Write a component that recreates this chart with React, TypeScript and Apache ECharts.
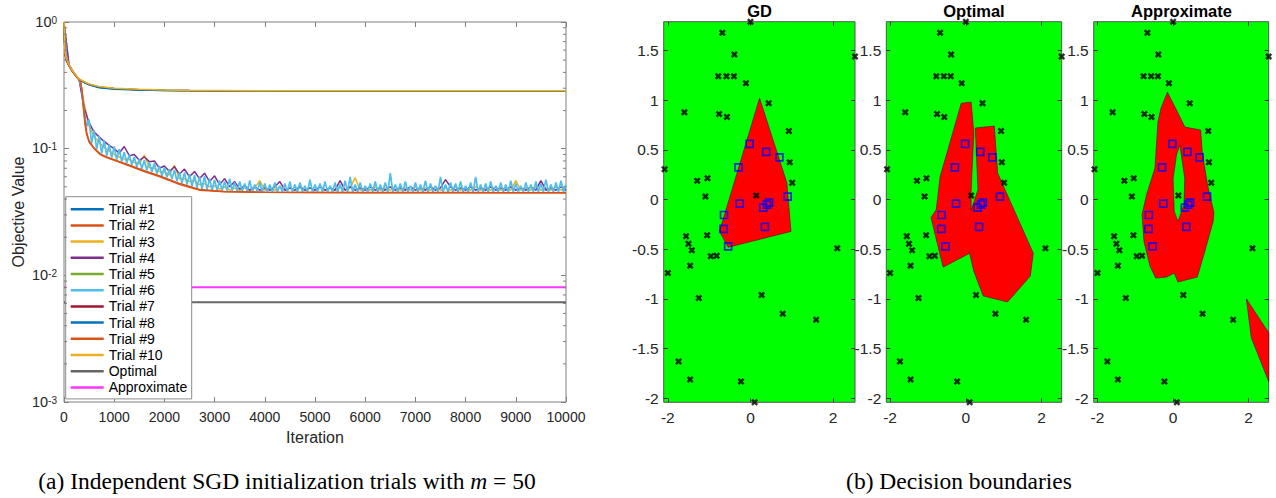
import React, { useEffect, useRef } from "react";
import * as echarts from "echarts";

// ---------------- Left chart data ----------------
const TRIAL_NAMES = ["Trial #1", "Trial #2", "Trial #3", "Trial #4", "Trial #5", "Trial #6", "Trial #7", "Trial #8", "Trial #9", "Trial #10"];
const TRIAL_COLORS = ["#0072BD", "#D95319", "#EDB120", "#7E2F8E", "#77AC30", "#4DBEEE", "#A2142F", "#0072BD", "#D95319", "#EDB120"];

// iterations for smooth (upper plateau) trials
const ITER_SMOOTH = [0, 20, 50, 100, 150, 200, 250, 300, 400, 500, 700, 1000, 1500, 2000, 2500, 3000, 4000, 5000, 6000, 7000, 8000, 9000, 10000];
const TRIAL1 = [1.0, 0.57, 0.5, 0.455, 0.42, 0.395, 0.372, 0.354, 0.336, 0.322, 0.307, 0.298, 0.292, 0.289, 0.2875, 0.287, 0.2862, 0.2858, 0.2856, 0.2858, 0.2855, 0.2857, 0.2855];
const TRIAL5 = [1.0, 0.56, 0.5, 0.452, 0.418, 0.393, 0.37, 0.352, 0.334, 0.32, 0.305, 0.297, 0.291, 0.288, 0.287, 0.2865, 0.286, 0.2855, 0.2853, 0.2855, 0.2852, 0.2855, 0.2853];
const TRIAL7 = [0.98, 0.56, 0.49, 0.45, 0.416, 0.392, 0.37, 0.353, 0.335, 0.321, 0.306, 0.298, 0.292, 0.289, 0.2873, 0.2866, 0.2862, 0.2857, 0.2856, 0.2857, 0.2855, 0.2856, 0.2855];
const TRIAL8 = [1.0, 0.57, 0.5, 0.454, 0.419, 0.394, 0.371, 0.353, 0.333, 0.319, 0.303, 0.295, 0.29, 0.2875, 0.2865, 0.286, 0.2855, 0.2852, 0.285, 0.2853, 0.285, 0.2852, 0.285];
const TRIAL10 = [1.0, 0.58, 0.51, 0.458, 0.422, 0.397, 0.374, 0.356, 0.338, 0.324, 0.309, 0.3, 0.294, 0.29, 0.2885, 0.2878, 0.287, 0.2865, 0.2862, 0.2866, 0.2863, 0.2865, 0.2862];

// iterations for smooth lower-envelope trials
const ITER_LOWER = [0, 20, 50, 100, 150, 200, 250, 300, 330, 360, 390, 420, 450, 500, 600, 720, 850, 1000, 1150, 1310, 1600, 1910, 2310, 2710, 3200, 4000, 5000, 6000, 8000, 10000];
const TRIAL2 = [1.0, 0.57, 0.5, 0.455, 0.42, 0.395, 0.372, 0.352, 0.335, 0.27, 0.2, 0.155, 0.13, 0.113, 0.1, 0.09, 0.085, 0.081, 0.077, 0.073, 0.066, 0.06, 0.052, 0.047, 0.0457, 0.0452, 0.045, 0.0449, 0.0449, 0.0448];
const TRIAL9 = [1.0, 0.56, 0.5, 0.453, 0.418, 0.393, 0.37, 0.35, 0.338, 0.29, 0.215, 0.165, 0.135, 0.115, 0.101, 0.091, 0.086, 0.082, 0.078, 0.074, 0.067, 0.061, 0.053, 0.0475, 0.046, 0.0453, 0.0451, 0.045, 0.045, 0.0449];

// noisy trials: every 50 iterations (Trial #6) and every 100 iterations (#3, #4)
const ITER_50 = Array.from({ length: 201 }, (_, i) => i * 50);
const ITER_100 = Array.from({ length: 101 }, (_, i) => i * 100);
const TRIAL6 = [
  1.0, 0.52, 0.46, 0.425, 0.395, 0.37, 0.352, 0.3, 0.2, 0.15,
  0.17, 0.11, 0.14, 0.099, 0.126, 0.092, 0.116, 0.088, 0.108, 0.085,
  0.104, 0.082, 0.099, 0.079, 0.094, 0.077, 0.09, 0.0745, 0.086, 0.072,
  0.083, 0.0695, 0.081, 0.0675, 0.078, 0.0655, 0.077, 0.0635, 0.073, 0.061,
  0.071, 0.0595, 0.069, 0.0575, 0.068, 0.0555, 0.065, 0.0535, 0.065, 0.052,
  0.063, 0.0505, 0.062, 0.049, 0.06, 0.048, 0.061, 0.0475, 0.058, 0.047,
  0.057, 0.047, 0.056, 0.047, 0.055, 0.0465, 0.058, 0.0465, 0.054, 0.046,
  0.055, 0.046, 0.053, 0.046, 0.056, 0.0458, 0.052, 0.0458, 0.054, 0.0456,
  0.053, 0.0455, 0.052, 0.0455, 0.054, 0.0455, 0.051, 0.0455, 0.053, 0.0455,
  0.055, 0.0455, 0.052, 0.0455, 0.054, 0.0455, 0.051, 0.0455, 0.057, 0.0455,
  0.052, 0.0455, 0.053, 0.0455, 0.055, 0.0455, 0.051, 0.0455, 0.054, 0.0455,
  0.052, 0.0455, 0.056, 0.0455, 0.06, 0.0455, 0.052, 0.0455, 0.054, 0.0455,
  0.051, 0.0455, 0.053, 0.0455, 0.055, 0.0455, 0.052, 0.0455, 0.054, 0.0455,
  0.064, 0.0455, 0.052, 0.0455, 0.053, 0.0455, 0.055, 0.0455, 0.051, 0.0455,
  0.054, 0.0455, 0.052, 0.0455, 0.056, 0.0455, 0.053, 0.0455, 0.051, 0.0455,
  0.06, 0.0455, 0.052, 0.0455, 0.054, 0.0455, 0.053, 0.0455, 0.055, 0.0455,
  0.051, 0.0455, 0.054, 0.0455, 0.06, 0.0455, 0.052, 0.0455, 0.053, 0.0455,
  0.055, 0.0455, 0.051, 0.0455, 0.054, 0.0455, 0.052, 0.0455, 0.056, 0.0455,
  0.053, 0.0455, 0.051, 0.0455, 0.054, 0.0455, 0.052, 0.0455, 0.055, 0.0455,
  0.053, 0.0455, 0.057, 0.0455, 0.052, 0.0455, 0.054, 0.0455, 0.056, 0.0455,
  0.052,
];
const TRIAL4 = [
  1.0, 0.46, 0.395, 0.352, 0.21, 0.16, 0.135, 0.124, 0.114, 0.106,
  0.1, 0.092, 0.104, 0.088, 0.09, 0.081, 0.086, 0.079, 0.08, 0.07,
  0.073, 0.066, 0.072, 0.063, 0.069, 0.06, 0.066, 0.058, 0.064, 0.055,
  0.061, 0.052, 0.058, 0.05, 0.055, 0.048, 0.051, 0.047, 0.05, 0.047,
  0.049, 0.047, 0.05, 0.055, 0.047, 0.049, 0.047, 0.05, 0.047, 0.049,
  0.047, 0.05, 0.047, 0.049, 0.047, 0.056, 0.047, 0.05, 0.047, 0.049,
  0.047, 0.05, 0.047, 0.049, 0.047, 0.05, 0.047, 0.049, 0.047, 0.05,
  0.047, 0.049, 0.047, 0.05, 0.047, 0.049, 0.057, 0.05, 0.047, 0.049,
  0.047, 0.05, 0.047, 0.049, 0.047, 0.05, 0.047, 0.049, 0.047, 0.05,
  0.047, 0.049, 0.047, 0.05, 0.047, 0.056, 0.047, 0.049, 0.047, 0.05,
  0.047,
];
const TRIAL3 = [
  1.0, 0.455, 0.395, 0.352, 0.23, 0.15, 0.125, 0.112, 0.102, 0.096,
  0.09, 0.086, 0.083, 0.082, 0.078, 0.076, 0.089, 0.071, 0.07, 0.066,
  0.065, 0.062, 0.074, 0.058, 0.058, 0.055, 0.056, 0.052, 0.053, 0.05,
  0.051, 0.048, 0.05, 0.047, 0.049, 0.047, 0.049, 0.047, 0.049, 0.056,
  0.047, 0.049, 0.047, 0.05, 0.047, 0.049, 0.047, 0.05, 0.047, 0.049,
  0.047, 0.05, 0.047, 0.049, 0.047, 0.05, 0.047, 0.049, 0.059, 0.047,
  0.049, 0.047, 0.05, 0.047, 0.049, 0.047, 0.05, 0.047, 0.049, 0.047,
  0.05, 0.047, 0.049, 0.047, 0.05, 0.047, 0.049, 0.047, 0.05, 0.047,
  0.049, 0.047, 0.05, 0.047, 0.049, 0.047, 0.05, 0.047, 0.049, 0.047,
  0.056, 0.047, 0.049, 0.047, 0.05, 0.047, 0.049, 0.047, 0.05, 0.047,
  0.049,
];

const ITER_FLAT = [0, 10000];
const OPTIMAL = [0.00614, 0.00614];
const APPROXIMATE = [0.00807, 0.00807];

const MINOR_LOG_TICKS = [
  0.002, 0.003, 0.004, 0.005, 0.006, 0.007, 0.008, 0.009,
  0.02, 0.03, 0.04, 0.05, 0.06, 0.07, 0.08, 0.09,
  0.2, 0.3, 0.4, 0.5, 0.6, 0.7, 0.8, 0.9,
];

// ---------------- Right panels data ----------------
const PANEL_TITLES = ["GD", "Optimal", "Approximate"];
const X_TICKS = [-2, 0, 2];
const Y_TICKS = [-2, -1.5, -1, -0.5, 0, 0.5, 1, 1.5];

const NEGATIVES = [
  [0.0, 1.79], [-0.68, 1.68], [-0.39, 1.46], [-0.78, 1.24], [-0.58, 1.24], [-0.4, 1.24], [-0.11, 1.17],
  [-1.6, 0.88], [-0.76, 0.86], [-0.57, 0.83], [0.44, 0.97], [0.93, 0.69], [0.95, 0.375], [1.01, 0.17],
  [-2.08, 0.305], [-1.29, 0.19], [-1.04, 0.215], [-1.09, 0.03], [0.14, 0.04], [2.53, 1.44],
  [-1.56, -0.37], [-1.5, -0.445], [-1.42, -0.51], [-1.05, -0.36], [-0.96, -0.57], [-0.82, -0.565],
  [-1.46, -0.665], [-2.0, -0.74], [-1.25, -0.99], [0.27, -0.96], [0.78, -1.15], [1.59, -1.21],
  [2.1, -0.49], [-1.74, -1.63], [-1.46, -1.81], [-0.23, -1.83], [0.1, -2.04],
];
const POSITIVES = [
  [-0.02, 0.56], [0.38, 0.48], [0.7, 0.425], [-0.29, 0.325], [0.9, 0.03], [-0.26, -0.04],
  [0.45, -0.03], [0.4, -0.05], [0.31, -0.08], [-0.64, -0.155], [-0.65, -0.295], [0.35, -0.275], [-0.54, -0.47],
];

const GD_REGION = [[0.22, 1.02], [0.88, 0.17], [0.98, -0.32], [-0.54, -0.48], [-0.75, -0.32]];
const OPT_REGION = [
  [-0.12, 0.97], [0.14, 0.98], [0.21, 0.67], [0.14, 0.1], [0.14, -0.11], [0.32, 0.1], [0.25, 0.72],
  [0.75, 0.74], [0.84, 0.265], [1.78, -0.54], [1.7, -0.77], [1.1, -1.03], [0.46, -0.97], [0.21, -0.72],
  [0.1, -0.54], [-0.6, -0.68], [-0.92, -0.18], [-0.78, -0.1], [-0.68, 0.23],
];
const APX_REGION = [
  [-0.15, 1.08], [0.13, 0.87], [0.31, 0.73], [0.73, 0.7], [0.77, 0.48], [0.91, 0.15], [1.08, -0.13],
  [1.06, -0.22], [0.84, -0.52], [0.64, -0.78], [0.13, -0.83], [0.03, -0.74], [-0.17, -0.78], [-0.46, -0.79],
  [-0.61, -0.67], [-0.77, -0.42], [-0.82, -0.15], [-0.7, 0.05], [-0.48, 0.315], [-0.4, 0.78], [-0.32, 0.92],
];
const APX_HOLE = [[0.18, 0.55], [0.31, 0.21], [0.29, -0.05], [0.13, -0.22], [0.03, -0.12], [0.0, 0.21], [0.09, 0.45]];
const APX_REGION2 = [[1.94, -1.0], [2.07, -1.39], [2.53, -1.83], [2.53, -1.34]];

const FONT = '"Liberation Sans", Arial, Helvetica, sans-serif';
const SERIF = '"Liberation Serif", "Times New Roman", serif';
const AXIS_GRAY = "#7f7f7f";
const LABEL = "#262626";

function pairs(xs: number[], ys: number[]) {
  return xs.map((x, i) => [x, ys[i]]);
}

function buildOption() {
  const panelGrids = [
    { left: 663.7, width: 191.3 },
    { left: 886.3, width: 175.4 },
    { left: 1093.7, width: 175 },
  ];
  const grid: any[] = [
    { left: 64, top: 22, width: 502, height: 380, show: true, backgroundColor: "#fff", borderColor: AXIS_GRAY, borderWidth: 1 },
    ...panelGrids.map((g) => ({ left: g.left, top: 21.7, width: g.width, height: 380.6, show: true, backgroundColor: "#00ff00", borderColor: "#555", borderWidth: 1 })),
  ];

  const xAxis: any[] = [
    {
      type: "value", gridIndex: 0, min: 0, max: 10000, interval: 1000, position: "bottom",
      axisLine: { show: false, onZero: false }, splitLine: { show: false },
      axisTick: { inside: true, length: 5, lineStyle: { color: AXIS_GRAY } },
      axisLabel: { fontSize: 14, color: LABEL, fontFamily: FONT, margin: 8, formatter: (v: number) => String(v) },
      name: "Iteration", nameLocation: "middle", nameGap: 27,
      nameTextStyle: { fontSize: 16, color: LABEL, fontFamily: FONT },
    },
    {
      type: "value", gridIndex: 0, min: 0, max: 10000, interval: 1000, position: "top",
      axisLine: { show: false, onZero: false }, splitLine: { show: false },
      axisTick: { inside: true, length: 5, lineStyle: { color: AXIS_GRAY } },
      axisLabel: { show: false },
    },
  ];
  const yAxis: any[] = [
    {
      type: "log", logBase: 10, gridIndex: 0, min: 0.001, max: 1, position: "left",
      axisLine: { show: false, onZero: false }, splitLine: { show: false },
      axisTick: { inside: true, length: 5, lineStyle: { color: AXIS_GRAY } },
      axisLabel: {
        margin: 7,
        formatter: (v: number) => `{b|10}{s|${Math.round(Math.log10(v))}}`,
        rich: {
          b: { fontSize: 14.5, color: LABEL, fontFamily: FONT, lineHeight: 14, padding: [4, 0, 0, 0], verticalAlign: "bottom" },
          s: { fontSize: 10, color: LABEL, fontFamily: FONT, lineHeight: 10, verticalAlign: "top" },
        },
      },
      name: "Objective Value", nameLocation: "middle", nameGap: 38,
      nameTextStyle: { fontSize: 16, color: LABEL, fontFamily: FONT },
    },
    {
      type: "log", logBase: 10, gridIndex: 0, min: 0.001, max: 1, position: "right",
      axisLine: { show: false, onZero: false }, splitLine: { show: false },
      axisTick: { inside: true, length: 5, lineStyle: { color: AXIS_GRAY } },
      axisLabel: { show: false },
    },
  ];

  panelGrids.forEach((_, k) => {
    const gi = k + 1;
    ["bottom", "top"].forEach((pos) => {
      xAxis.push({
        type: "value", gridIndex: gi, min: -2.1, max: 2.53, position: pos,
        axisLine: { show: false, onZero: false }, splitLine: { show: false },
        axisTick: { show: true, inside: true, length: 4, customValues: X_TICKS, lineStyle: { color: "#333" } },
        axisLabel: { show: pos === "bottom", customValues: X_TICKS, fontSize: 15.5, color: LABEL, fontFamily: FONT, margin: 7 },
      });
    });
    ["left", "right"].forEach((pos) => {
      yAxis.push({
        type: "value", gridIndex: gi, min: -2.04, max: 1.79, position: pos,
        axisLine: { show: false, onZero: false }, splitLine: { show: false },
        axisTick: { show: true, inside: true, length: 4, customValues: Y_TICKS, lineStyle: { color: "#333" } },
        axisLabel: { show: pos === "left", customValues: Y_TICKS, fontSize: 15.5, color: LABEL, fontFamily: FONT, margin: 5 },
      });
    });
  });

  const trialData = [
    pairs(ITER_SMOOTH, TRIAL1),
    pairs(ITER_LOWER, TRIAL2),
    pairs(ITER_100, TRIAL3),
    pairs(ITER_100, TRIAL4),
    pairs(ITER_SMOOTH, TRIAL5),
    pairs(ITER_50, TRIAL6),
    pairs(ITER_SMOOTH, TRIAL7),
    pairs(ITER_SMOOTH, TRIAL8),
    pairs(ITER_LOWER, TRIAL9),
    pairs(ITER_SMOOTH, TRIAL10),
  ];

  const series: any[] = [];
  trialData.forEach((d, i) => {
    series.push({
      type: "line", name: TRIAL_NAMES[i], xAxisIndex: 0, yAxisIndex: 0, data: d,
      showSymbol: false, symbol: "none", silent: true,
      lineStyle: { color: TRIAL_COLORS[i], width: i === 5 ? 1.7 : 1.5 }, itemStyle: { color: TRIAL_COLORS[i] },
    });
  });
  series.push({
    type: "line", name: "Optimal", xAxisIndex: 0, yAxisIndex: 0, data: pairs(ITER_FLAT, OPTIMAL),
    symbol: "none", silent: true, lineStyle: { color: "#666666", width: 2 }, itemStyle: { color: "#666666" },
  });
  series.push({
    type: "line", name: "Approximate", xAxisIndex: 0, yAxisIndex: 0, data: pairs(ITER_FLAT, APPROXIMATE),
    symbol: "none", silent: true, lineStyle: { color: "#ff33ff", width: 2 }, itemStyle: { color: "#ff33ff" },
  });
  // minor log ticks on both sides
  series.push({
    type: "custom", xAxisIndex: 0, yAxisIndex: 0, silent: true, z: 5,
    data: MINOR_LOG_TICKS.map((v) => [0, v]),
    renderItem: (params: any, api: any) => {
      const v = api.value(1);
      const l = api.coord([0, v]);
      const r = api.coord([10000, v]);
      return {
        type: "group",
        children: [
          { type: "line", shape: { x1: l[0], y1: l[1], x2: l[0] + 3, y2: l[1] }, style: { stroke: AXIS_GRAY, lineWidth: 1 } },
          { type: "line", shape: { x1: r[0] - 3, y1: r[1], x2: r[0], y2: r[1] }, style: { stroke: AXIS_GRAY, lineWidth: 1 } },
        ],
      };
    },
  });

  const regions = [
    { polys: [GD_REGION], fills: ["#ff0000"] },
    { polys: [OPT_REGION], fills: ["#ff0000"] },
    { polys: [APX_REGION, APX_HOLE, APX_REGION2], fills: ["#ff0000", "#00ff00", "#ff0000"] },
  ];
  const X_SYMBOL = "path://M0,2.5 L2.5,0 L5,2.5 L7.5,0 L10,2.5 L7.5,5 L10,7.5 L7.5,10 L5,7.5 L2.5,10 L0,7.5 L2.5,5 Z";
  regions.forEach((reg, k) => {
    const ax = 2 + k * 2;
    series.push({
      type: "custom", xAxisIndex: ax, yAxisIndex: ax, silent: true, z: 1,
      data: [[0, 0]],
      renderItem: (params: any, api: any) => ({
        type: "group",
        children: reg.polys.map((p, j) => ({
          type: "polygon",
          shape: { points: p.map((v) => api.coord(v)) },
          style: { fill: reg.fills[j], stroke: "#5a0000", lineWidth: 0.6 },
        })),
      }),
    });
    series.push({
      type: "scatter", xAxisIndex: ax, yAxisIndex: ax, silent: true, z: 3, clip: false,
      data: NEGATIVES, symbol: X_SYMBOL, symbolSize: 7, itemStyle: { color: "#000" },
    });
    series.push({
      type: "scatter", xAxisIndex: ax, yAxisIndex: ax, silent: true, z: 3, clip: false,
      data: POSITIVES, symbol: "rect", symbolSize: 7,
      itemStyle: { color: "rgba(0,0,0,0)", borderColor: "#0000ff", borderWidth: 1.7 },
    });
  });

  const titleX = [759.5, 974, 1181.5];
  const graphic: any[] = PANEL_TITLES.map((t, k) => ({
    type: "text", x: titleX[k], y: 11,
    style: { text: t, fontSize: 16.5, fontWeight: "bold", fontFamily: FONT, fill: "#000", align: "center", verticalAlign: "middle" },
  }));
  graphic.push({
    type: "text", x: 287, y: 481,
    style: {
      text: "(a) Independent SGD initialization trials with {i|m} = 50",
      rich: { i: { fontStyle: "italic", fontSize: 23.5, fontFamily: SERIF, fill: "#000" } },
      fontSize: 23.5, fontFamily: SERIF, fill: "#000", align: "center", verticalAlign: "middle",
    },
  });
  graphic.push({
    type: "text", x: 959, y: 481,
    style: { text: "(b) Decision boundaries", fontSize: 23.5, fontFamily: SERIF, fill: "#000", align: "center", verticalAlign: "middle" },
  });

  return {
    animation: false,
    backgroundColor: "#fff",
    grid, xAxis, yAxis, series, graphic,
    legend: {
      data: [...TRIAL_NAMES, "Optimal", "Approximate"],
      orient: "vertical", left: 65.7, top: 196.7,
      itemWidth: 33, itemHeight: 2.5, itemGap: 2.2, icon: "rect",
      padding: [5.5, 4.4, 4.5, 5],
      backgroundColor: "#fff", borderColor: "#8c8c8c", borderWidth: 1,
      textStyle: { fontSize: 14, fontFamily: FONT, color: "#000", lineHeight: 14 },
      selectedMode: false,
    },
  };
}

export default function App() {
  const ref = useRef<HTMLDivElement>(null);
  useEffect(() => {
    const chart = echarts.init(ref.current!, null, { renderer: "svg" });
    chart.setOption(buildOption());
    return () => chart.dispose();
  }, []);
  return <div ref={ref} style={{ position: "fixed", left: 0, top: 0, width: 1276, height: 498, background: "#fff" }} />;
}
